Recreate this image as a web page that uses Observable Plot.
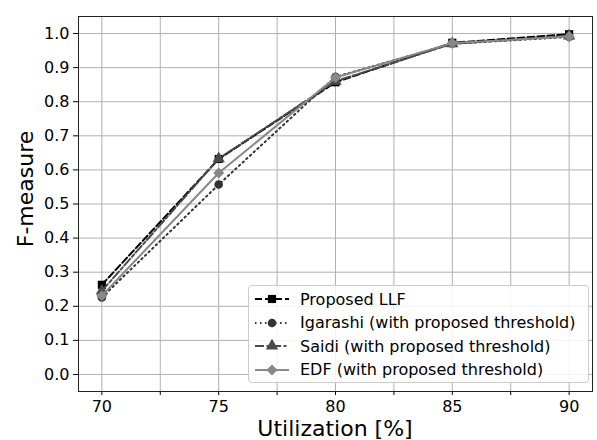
<!DOCTYPE html>
<html>
<head>
<meta charset="utf-8">
<script src="https://cdn.jsdelivr.net/npm/d3@7"></script>
<script src="https://cdn.jsdelivr.net/npm/@observablehq/plot@0.6"></script>
<style>
  body { margin: 0; background: #fff; font-family: "DejaVu Sans", sans-serif; }
  #wrap { position: relative; width: 597px; height: 440px; overflow: hidden; }
  #legend { position: absolute; left: 248px; top: 285px; width: 341px; height: 98px;
    border: 1px solid #cccccc; border-radius: 4px; background: rgba(255,255,255,0.85);
    box-sizing: border-box; font-size: 16px; color: #000; }
  .row { position: absolute; left: 5px; height: 20px; display: flex; align-items: center; }
  .row span { margin-left: 10px; white-space: nowrap; }
</style>
</head>
<body>
<div id="wrap"></div>
<script>
// ---- data ----
const utilization = [70, 75, 80, 85, 90];
const proposedLLF = [0.263, 0.632, 0.857, 0.973, 0.998];
const igarashi    = [0.226, 0.557, 0.873, 0.970, 0.990];
const saidi       = [0.245, 0.633, 0.860, 0.970, 0.993];
const edf         = [0.231, 0.591, 0.871, 0.972, 0.991];
const seriesNames = ["Proposed LLF", "Igarashi (with proposed threshold)", "Saidi (with proposed threshold)", "EDF (with proposed threshold)"];
const xTicks = [70, 75, 80, 85, 90];
const xMinorTicks = [72.5, 77.5, 82.5, 87.5];
const yTicks = [0, 0.1, 0.2, 0.3, 0.4, 0.5, 0.6, 0.7, 0.8, 0.9, 1.0];
const xLabel = "Utilization [%]";
const yLabel = "F-measure";

// ---- styles ----
const styles = [
  {stroke: "#000000", dash: "7,3", symbol: d3.symbolSquare, r: 4.6},
  {stroke: "#333333", dash: "1.5,3.5", symbol: d3.symbolCircle, r: 4.3},
  {stroke: "#4a4a4a", dash: "9,2.5,3,2.5", symbol: d3.symbolTriangle, r: 4.6},
  {stroke: "#888888", dash: null, symbol: d3.symbolDiamond2 || d3.symbolDiamond, r: 5.0}
];
const allValues = [proposedLLF, igarashi, saidi, edf];
const series = allValues.map((vals, i) => utilization.map((u, j) => ({x: u, y: vals[j], name: seriesNames[i]})));

const marks = [
  Plot.gridX([...xTicks, ...xMinorTicks], {stroke: "#b0b0b0", strokeOpacity: 1, strokeWidth: 1}),
  Plot.gridY(yTicks, {stroke: "#b0b0b0", strokeOpacity: 1, strokeWidth: 1}),
  Plot.axisX(xTicks, {tickSize: 4, tickPadding: 5, fontSize: 16, label: null, tickFormat: d => String(d)}),
  Plot.axisX(xMinorTicks, {tickSize: 4, tickFormat: () => "", label: null}),
  Plot.axisY(yTicks, {tickSize: 5, tickPadding: 4, fontSize: 16, label: null, tickFormat: d3.format(".1f")}),
];
series.forEach((s, i) => {
  const st = styles[i];
  marks.push(Plot.line(s, {x: "x", y: "y", stroke: st.stroke, strokeWidth: 2, strokeDasharray: st.dash || undefined}));
  marks.push(Plot.dot(s, {x: "x", y: "y", symbol: st.symbol, r: st.r, fill: st.stroke, stroke: "none"}));
});
marks.push(Plot.frame({stroke: "#222", strokeWidth: 1}));

const chart = Plot.plot({
  width: 597, height: 440,
  marginLeft: 78, marginRight: 5, marginTop: 16, marginBottom: 49,
  style: {fontFamily: "DejaVu Sans", fontSize: "16px", color: "#000", background: "#fff"},
  x: {domain: [69, 91], label: null},
  y: {domain: [-0.05, 1.05], label: null},
  marks
});
document.getElementById("wrap").appendChild(chart);

// axis titles
const svg = d3.select(chart);
svg.append("text").attr("x", 335).attr("y", 436).attr("text-anchor", "middle")
  .attr("font-size", 22).attr("fill", "#000").attr("font-family", "DejaVu Sans").text(xLabel);
svg.append("text").attr("transform", "translate(33,189) rotate(-90)").attr("text-anchor", "middle")
  .attr("font-size", 22).attr("fill", "#000").attr("font-family", "DejaVu Sans").text(yLabel);

// legend
const legend = d3.select("#wrap").append("div").attr("id", "legend");
seriesNames.forEach((name, i) => {
  const st = styles[i];
  const row = legend.append("div").attr("class", "row").style("top", (3 + i * 23.5) + "px");
  const sw = row.append("svg").attr("width", 36).attr("height", 16);
  sw.append("line").attr("x1", 1).attr("x2", 35).attr("y1", 8).attr("y2", 8)
    .attr("stroke", st.stroke).attr("stroke-width", 2)
    .attr("stroke-dasharray", st.dash || null);
  sw.append("path").attr("transform", "translate(18,8)")
    .attr("d", d3.symbol(st.symbol, Math.PI * st.r * st.r)())
    .attr("fill", st.stroke);
  row.append("span").text(name);
});
</script>
</body>
</html>
